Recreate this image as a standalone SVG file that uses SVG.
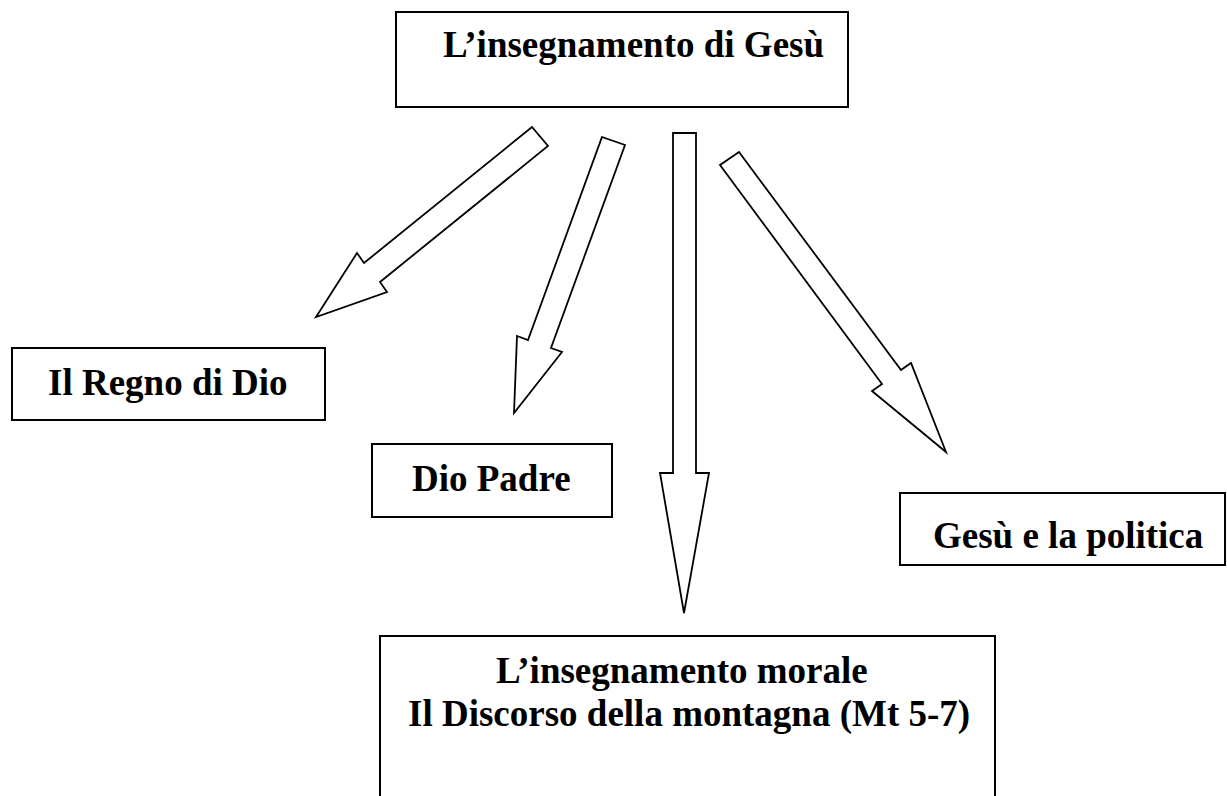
<svg xmlns="http://www.w3.org/2000/svg" width="1227" height="796" viewBox="0 0 1227 796">
<style>
.box{fill:#fff;stroke:#000;stroke-width:2}
.arr{fill:#fff;stroke:#000;stroke-width:1.8;stroke-linejoin:miter}
.t{font-family:"Liberation Serif","Times New Roman",serif;font-weight:bold;font-size:37px;fill:#000}
</style>
<rect width="1227" height="796" fill="#fff"/>
<g id="connectors">
<polygon class="arr" points="532,127 548,146 380,282 387,292 316,317 357,253 364,263"/>
<polygon class="arr" points="602,137 625,145 551,348 562,352 514,413 517,336 528,340"/>
<polygon class="arr" points="673,133 696,133 696,473 709,473 684,613 660,473 673,473"/>
<polygon class="arr" points="739,152 901,370 911,363 946,452 872,391 882,384 720,165"/>
</g>
<g id="node-top">
<rect class="box" x="396" y="12" width="452" height="95"/>
<text class="t" x="443" y="57">L’insegnamento di Gesù</text>
</g>
<g id="node-regno">
<rect class="box" x="12" y="348" width="313" height="72"/>
<text class="t" x="48" y="395">Il Regno di Dio</text>
</g>
<g id="node-padre">
<rect class="box" x="372" y="444" width="240" height="73"/>
<text class="t" x="412" y="491">Dio Padre</text>
</g>
<g id="node-politica">
<rect class="box" x="900" y="493" width="325" height="72"/>
<text class="t" x="933" y="548">Gesù e la politica</text>
</g>
<g id="node-morale">
<path class="box" d="M380,800 V636 H995 V800"/>
<text class="t" x="496" y="683">L’insegnamento morale</text>
<text class="t" x="408" y="726">Il Discorso della montagna (Mt 5-7)</text>
</g>
</svg>
